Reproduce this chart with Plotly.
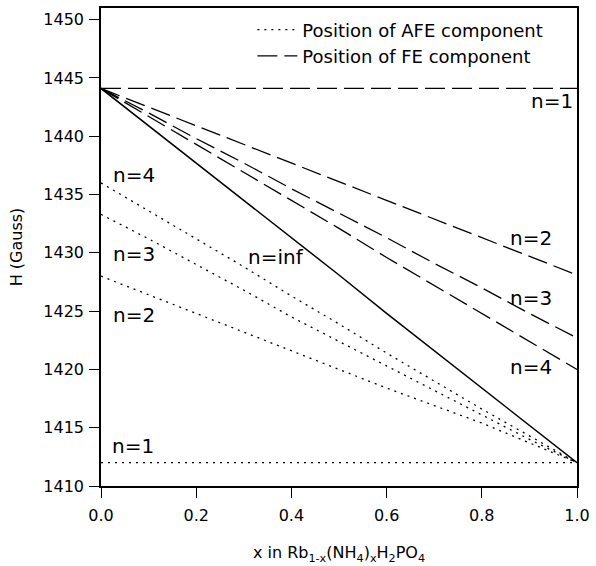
import plotly.graph_objects as go

x = [0.0, 0.1, 0.2, 0.3, 0.4, 0.5, 0.6, 0.7, 0.8, 0.9, 1.0]

fe_n1 = [1444.1] * 11
fe_n2 = [1444.1, 1442.5, 1440.9, 1439.3, 1437.7, 1436.1, 1434.5, 1432.9, 1431.3, 1429.7, 1428.1]
fe_n3 = [1444.1, 1442.0, 1439.8, 1437.7, 1435.5, 1433.4, 1431.3, 1429.1, 1427.0, 1424.8, 1422.7]
fe_n4 = [1444.1, 1441.7, 1439.3, 1436.9, 1434.5, 1432.1, 1429.6, 1427.2, 1424.8, 1422.4, 1420.0]
n_inf = [1444.1, 1440.9, 1437.7, 1434.5, 1431.3, 1428.1, 1424.8, 1421.6, 1418.4, 1415.2, 1412.0]

afe_n1 = [1412.0] * 11
afe_n2 = [1428.0, 1426.4, 1424.8, 1423.2, 1421.6, 1420.0, 1418.4, 1416.9, 1415.4, 1413.7, 1412.0]
afe_n3 = [1433.3, 1431.2, 1429.0, 1426.8, 1424.5, 1422.4, 1420.3, 1418.2, 1416.1, 1414.0, 1412.0]
afe_n4 = [1436.0, 1433.6, 1431.2, 1428.8, 1426.3, 1423.9, 1421.4, 1419.0, 1416.6, 1414.3, 1412.0]

x_ticks = [0.0, 0.2, 0.4, 0.6, 0.8, 1.0]
y_ticks = [1410, 1415, 1420, 1425, 1430, 1435, 1440, 1445, 1450]

labels = [
    ("n=1", 0.995, 1443.0, "right"),
    ("n=2", 0.904, 1431.3, "center"),
    ("n=3", 0.904, 1426.1, "center"),
    ("n=4", 0.904, 1420.2, "center"),
    ("n=inf", 0.368, 1429.6, "center"),
    ("n=4", 0.069, 1436.7, "center"),
    ("n=3", 0.069, 1429.9, "center"),
    ("n=2", 0.069, 1424.7, "center"),
    ("n=1", 0.067, 1413.4, "center"),
]

DOT = "2px,5px"
DASH = "20px,7px"
BLK = "black"

fig = go.Figure()
fig.add_trace(go.Scatter(x=x, y=afe_n1, mode="lines", name="Position of AFE component",
                         line=dict(color=BLK, width=1.3, dash=DOT), showlegend=True))
fig.add_trace(go.Scatter(x=x, y=fe_n1, mode="lines", name="Position of FE component",
                         line=dict(color=BLK, width=1.3, dash=DASH), showlegend=True))
for ys in (afe_n2, afe_n3, afe_n4):
    fig.add_trace(go.Scatter(x=x, y=ys, mode="lines", line=dict(color=BLK, width=1.3, dash=DOT),
                             showlegend=False))
for ys in (fe_n2, fe_n3, fe_n4):
    fig.add_trace(go.Scatter(x=x, y=ys, mode="lines", line=dict(color=BLK, width=1.3, dash=DASH),
                             showlegend=False))
fig.add_trace(go.Scatter(x=x, y=n_inf, mode="lines", line=dict(color=BLK, width=1.5),
                         showlegend=False))

for txt, lx, ly, al in labels:
    fig.add_annotation(x=lx, y=ly, text=txt, showarrow=False, xanchor=al, yanchor="middle",
                       font=dict(family="DejaVu Sans", size=20, color=BLK))

fig.update_layout(
    width=596, height=566,
    margin=dict(l=101, r=14, t=6, b=80),
    paper_bgcolor="white", plot_bgcolor="white",
    font=dict(family="DejaVu Sans", color=BLK),
    legend=dict(x=0.318, y=0.993, xanchor="left", yanchor="top",
                bgcolor="rgba(0,0,0,0)", font=dict(family="DejaVu Sans", size=18),
                tracegroupgap=0, itemwidth=40),
    showlegend=True,
)
fig.update_xaxes(range=[0, 1], tickvals=x_ticks, ticktext=[f"{v:.1f}" for v in x_ticks],
                 ticks="outside", ticklen=10, tickwidth=1.2, tickcolor=BLK,
                 showline=True, linecolor=BLK, linewidth=1.5, mirror=True,
                 showgrid=False, zeroline=False, ticklabelstandoff=4,
                 tickfont=dict(family="DejaVu Sans", size=16),
                 title=dict(text="x in Rb<sub>1-x</sub>(NH<sub>4</sub>)<sub>x</sub>H<sub>2</sub>PO<sub>4</sub>",
                            font=dict(family="DejaVu Sans", size=16), standoff=23))
fig.update_yaxes(range=[1410, 1451], tickvals=y_ticks,
                 ticks="outside", ticklen=10, tickwidth=1.2, tickcolor=BLK,
                 showline=True, linecolor=BLK, linewidth=1.5, mirror=True,
                 showgrid=False, zeroline=False, ticklabelstandoff=2,
                 tickfont=dict(family="DejaVu Sans", size=16),
                 title=dict(text="H (Gauss)", font=dict(family="DejaVu Sans", size=16), standoff=17))

fig.write_html("out.html", config={"displayModeBar": False},
               post_script="document.body.style.margin='0';document.body.style.padding='0';")
